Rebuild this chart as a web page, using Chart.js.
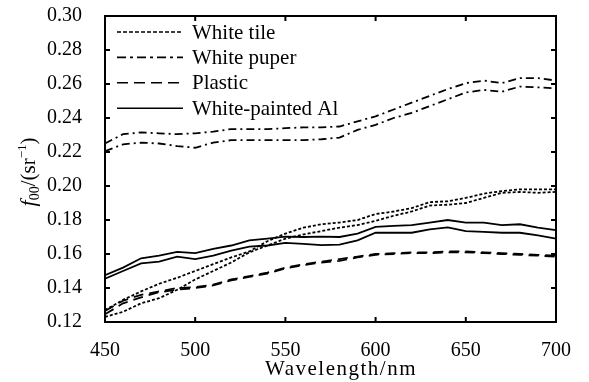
<!DOCTYPE html>
<html>
<head>
<meta charset="utf-8">
<script src="https://cdn.jsdelivr.net/npm/chart.js@4/dist/chart.umd.min.js"></script>
<style>
  html, body { margin: 0; padding: 0; background: #fff; }
  #wrap { width: 589px; height: 382px; }
</style>
</head>
<body>
<div id="wrap"><canvas id="brdfChart"></canvas></div>
<script>
const wavelengths = [450, 460, 470, 480, 490, 500, 510, 520, 530, 540, 550, 560, 570, 580, 590, 600, 610, 620, 630, 640, 650, 660, 670, 680, 690, 700];

const tileA = [0.127, 0.133, 0.138, 0.1425, 0.146, 0.150, 0.154, 0.158, 0.1615, 0.1675, 0.172, 0.1755, 0.1775, 0.1785, 0.180, 0.1835, 0.185, 0.187, 0.1905, 0.191, 0.193, 0.1955, 0.197, 0.198, 0.198, 0.198];
const tileB = [0.123, 0.126, 0.131, 0.134, 0.139, 0.145, 0.150, 0.155, 0.161, 0.165, 0.169, 0.1715, 0.1735, 0.1755, 0.177, 0.1795, 0.1825, 0.185, 0.1885, 0.189, 0.190, 0.193, 0.196, 0.1965, 0.196, 0.1965];
const paperA = [0.225, 0.2305, 0.2315, 0.231, 0.2305, 0.231, 0.232, 0.2335, 0.2335, 0.2335, 0.234, 0.2345, 0.2345, 0.235, 0.238, 0.241, 0.245, 0.249, 0.253, 0.257, 0.2605, 0.262, 0.2605, 0.2635, 0.2635, 0.262];
const paperB = [0.2205, 0.2245, 0.2255, 0.225, 0.2235, 0.2225, 0.2255, 0.227, 0.227, 0.227, 0.227, 0.227, 0.2275, 0.2285, 0.233, 0.236, 0.240, 0.243, 0.247, 0.251, 0.255, 0.2565, 0.2555, 0.2585, 0.258, 0.2575];
const plasticA = [0.1265, 0.1325, 0.136, 0.138, 0.140, 0.1405, 0.142, 0.145, 0.147, 0.149, 0.152, 0.154, 0.1555, 0.157, 0.1585, 0.160, 0.1605, 0.161, 0.161, 0.1615, 0.1615, 0.161, 0.1605, 0.160, 0.1595, 0.159];
const plasticB = [0.1245, 0.131, 0.1345, 0.1375, 0.139, 0.140, 0.1415, 0.1445, 0.1465, 0.1485, 0.1515, 0.1535, 0.155, 0.156, 0.158, 0.1595, 0.160, 0.1605, 0.1605, 0.161, 0.161, 0.1605, 0.160, 0.1595, 0.159, 0.1585];
const alA = [0.1475, 0.152, 0.1575, 0.159, 0.1612, 0.1605, 0.163, 0.165, 0.168, 0.169, 0.1702, 0.170, 0.1702, 0.170, 0.172, 0.176, 0.1765, 0.177, 0.1785, 0.180, 0.1785, 0.1785, 0.177, 0.1775, 0.1755, 0.174];
const alB = [0.1455, 0.150, 0.1545, 0.1555, 0.1585, 0.157, 0.159, 0.162, 0.1643, 0.165, 0.1666, 0.166, 0.1652, 0.1655, 0.168, 0.1725, 0.1725, 0.1725, 0.1745, 0.1757, 0.1735, 0.173, 0.1725, 0.1725, 0.171, 0.169];

const xTicks = [450, 500, 550, 600, 650, 700];
const yTicks = [0.12, 0.14, 0.16, 0.18, 0.20, 0.22, 0.24, 0.26, 0.28, 0.30];
const legendNames = ['White tile', 'White puper', 'Plastic', 'White-painted Al'];
const legendDash = [[4, 2], [9, 4, 3, 4], [11, 6], []];

const serif = "'Liberation Serif', 'Times New Roman', serif";

function series(values, dash) {
  return {
    data: wavelengths.map((w, i) => ({ x: w, y: values[i] })),
    borderColor: '#000',
    borderWidth: 1.8,
    borderDash: dash,
    pointRadius: 0,
    fill: false,
    tension: 0
  };
}

const framePlugin = {
  id: 'frame',
  afterDatasetsDraw(chart) {
    const { ctx, chartArea: a, scales: { x, y } } = chart;
    const line = (x1, y1, x2, y2) => { ctx.beginPath(); ctx.moveTo(x1, y1); ctx.lineTo(x2, y2); ctx.stroke(); };
    ctx.save();
    ctx.strokeStyle = '#000';
    ctx.fillStyle = '#000';
    ctx.lineWidth = 2;
    ctx.setLineDash([]);
    ctx.strokeRect(a.left, a.top, a.right - a.left, a.bottom - a.top);
    // inward ticks on all four sides
    xTicks.forEach(v => {
      const px = x.getPixelForValue(v);
      line(px, a.bottom, px, a.bottom - 5);
      line(px, a.top, px, a.top + 5);
    });
    yTicks.forEach(v => {
      const py = y.getPixelForValue(v);
      line(a.left, py, a.left + 5, py);
      line(a.right, py, a.right - 5, py);
    });

    // legend in the top left corner
    ctx.font = '21px ' + serif;
    ctx.textBaseline = 'middle';
    ctx.textAlign = 'left';
    legendNames.forEach((name, i) => {
      const ly = a.top + 16 + i * 25.4;
      ctx.lineWidth = 1.6;
      ctx.setLineDash(legendDash[i]);
      line(a.left + 12, ly, a.left + 78, ly);
      ctx.fillText(name, a.left + 87, ly + 1);
    });
    ctx.setLineDash([]);

    // x axis title
    ctx.font = '21px ' + serif;
    ctx.letterSpacing = '1.5px';
    ctx.textAlign = 'center';
    ctx.textBaseline = 'middle';
    ctx.fillText('Wavelength/nm', 341, 369);
    ctx.letterSpacing = '0px';

    // y axis title f00/(sr-1)
    ctx.translate(28, 172);
    ctx.rotate(-Math.PI / 2);
    ctx.textAlign = 'left';
    ctx.textBaseline = 'alphabetic';
    const parts = [
      { t: 'f', f: 'italic 22px ' + serif, dy: 0 },
      { t: '00', f: '14px ' + serif, dy: 4 },
      { t: '/(sr', f: '21px ' + serif, dy: 0 },
      { t: '\u22121', f: '13px ' + serif, dy: -9 },
      { t: ')', f: '21px ' + serif, dy: 0 }
    ];
    let total = 0;
    parts.forEach(p => { ctx.font = p.f; p.w = ctx.measureText(p.t).width; total += p.w; });
    let cx = -total / 2;
    parts.forEach(p => { ctx.font = p.f; ctx.fillText(p.t, cx, 7 + p.dy); cx += p.w; });
    ctx.restore();
  }
};

const ctx = document.getElementById('brdfChart').getContext('2d');
new Chart(ctx, {
  type: 'line',
  data: {
    datasets: [
      series(tileA, [3, 2]), series(tileB, [3, 2]),
      series(paperA, [8, 4, 2, 4]), series(paperB, [8, 4, 2, 4]),
      series(plasticA, [10, 6]), series(plasticB, [10, 6]),
      series(alA, []), series(alB, [])
    ]
  },
  options: {
    responsive: true,
    maintainAspectRatio: false,
    animation: false,
    layout: { padding: { top: 16, right: 33, left: 0, bottom: 0 } },
    plugins: { legend: { display: false }, tooltip: { enabled: false } },
    scales: {
      x: {
        type: 'linear', min: 450, max: 700,
        afterBuildTicks: s => { s.ticks = xTicks.map(v => ({ value: v })); },
        afterFit: s => { s.height = 60; s.paddingLeft = 0; s.paddingRight = 0; },
        grid: { display: false },
        border: { display: false },
        ticks: { color: '#000', padding: 9, font: { family: serif, size: 20 }, maxRotation: 0 }
      },
      y: {
        min: 0.12, max: 0.30,
        afterBuildTicks: s => { s.ticks = yTicks.map(v => ({ value: v })); },
        afterFit: s => { s.width = 105; s.paddingTop = 0; s.paddingBottom = 0; },
        grid: { display: false },
        border: { display: false },
        ticks: { color: '#000', padding: 15, font: { family: serif, size: 20 }, callback: v => v.toFixed(2) }
      }
    }
  },
  plugins: [framePlugin]
});
</script>
</body>
</html>
